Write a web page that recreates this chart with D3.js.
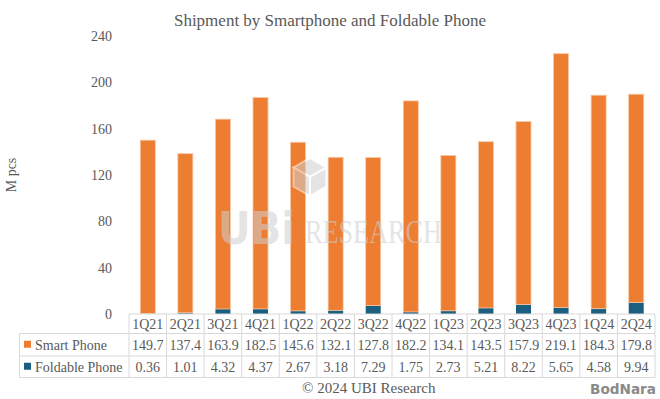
<!DOCTYPE html>
<html>
<head>
<meta charset="utf-8">
<script src="https://cdn.jsdelivr.net/npm/d3@7"></script>
<style>
  body { margin: 0; background: #fff; }
  text { font-family: "Liberation Serif", "Times New Roman", serif; fill: #595959; }
</style>
</head>
<body>
<div id="chart"></div>
<script>
// chart data
const quarters = ["1Q21", "2Q21", "3Q21", "4Q21", "1Q22", "2Q22", "3Q22", "4Q22", "1Q23", "2Q23", "3Q23", "4Q23", "1Q24", "2Q24"];
const smartPhone = [149.7, 137.4, 163.9, 182.5, 145.6, 132.1, 127.8, 182.2, 134.1, 143.5, 157.9, 219.1, 184.3, 179.8];
const foldablePhone = [0.36, 1.01, 4.32, 4.37, 2.67, 3.18, 7.29, 1.75, 2.73, 5.21, 8.22, 5.65, 4.58, 9.94];
const yTicks = [0, 40, 80, 120, 160, 200, 240];
const seriesNames = ["Smart Phone", "Foldable Phone"];
const colors = { "Smart Phone": "#ED7D31", "Foldable Phone": "#1A5F7F" };

const width = 660, height = 399;
const plotLeft = 129, plotRight = 655, plotTop = 36, plotBottom = 314;
const tableLeft = 19.5, rowH = [19.5, 22.5, 21.5];
const barW = 15;
const gridColor = "#d9d9d9";

const svg = d3.select("#chart").append("svg")
  .attr("width", width)
  .attr("height", height);

const x = d3.scaleBand().domain(quarters).range([plotLeft, plotRight]);
const y = d3.scaleLinear().domain([0, 240]).range([plotBottom, plotTop]);

// title
svg.append("text")
  .attr("x", 330).attr("y", 26)
  .attr("text-anchor", "middle")
  .style("font-size", "17px")
  .text("Shipment by Smartphone and Foldable Phone");

// y axis labels
svg.append("g").selectAll("text")
  .data(yTicks)
  .enter().append("text")
  .attr("x", 112)
  .attr("y", d => y(d) + 5)
  .attr("text-anchor", "end")
  .style("font-size", "14px")
  .text(d => d);

svg.append("text")
  .attr("transform", "translate(16, 175) rotate(-90)")
  .attr("text-anchor", "middle")
  .style("font-size", "14px")
  .text("M pcs");

// stacked bars
const rows = quarters.map((q, i) => ({ q: q, "Smart Phone": smartPhone[i], "Foldable Phone": foldablePhone[i] }));
const stack = d3.stack().keys(["Foldable Phone", "Smart Phone"])(rows);

svg.append("g").selectAll("g")
  .data(stack)
  .enter().append("g")
  .attr("fill", d => colors[d.key])
  .attr("stroke", d => d.key === "Smart Phone" ? "#f7c7a6" : "none")
  .attr("stroke-width", 0.8)
  .selectAll("rect")
  .data(d => d)
  .enter().append("rect")
  .attr("x", d => x(d.data.q) + (x.bandwidth() - barW) / 2)
  .attr("y", d => y(d[1]))
  .attr("width", barW)
  .attr("height", d => y(d[0]) - y(d[1]));

// watermark
const wm = svg.append("g").attr("opacity", 0.55).style("pointer-events", "none");
wm.append("text")
  .attr("x", 218).attr("y", 244)
  .attr("textLength", 77).attr("lengthAdjust", "spacingAndGlyphs")
  .style("font-family", "'DejaVu Sans', sans-serif")
  .style("font-weight", "bold")
  .style("font-size", "44px")
  .style("fill", "#cfcfcf")
  .text("UBi");
wm.append("text")
  .attr("x", 305).attr("y", 243)
  .attr("textLength", 137).attr("lengthAdjust", "spacingAndGlyphs")
  .style("font-size", "33px")
  .style("fill", "#cfcfcf")
  .text("RESEARCH");
// cube icon
const cx = 310, cy = 177, r = 19;
const hex = d3.range(6).map(k => [cx + r * Math.cos(Math.PI / 6 + k * Math.PI / 3), cy + r * Math.sin(Math.PI / 6 + k * Math.PI / 3)]);
const faces = [[hex[3], hex[4], hex[5], [cx, cy]], [hex[5], hex[0], hex[1], [cx, cy]], [hex[1], hex[2], hex[3], [cx, cy]]];
wm.selectAll("path.face")
  .data(faces)
  .enter().append("path")
  .attr("class", "face")
  .attr("d", d => d3.line()(d) + "Z")
  .attr("fill", "#cfcfcf")
  .attr("stroke", "#fff")
  .attr("stroke-width", 2);

// data table
const tbl = svg.append("g");
const yRow0 = plotBottom, yRow1 = yRow0 + rowH[0], yRow2 = yRow1 + rowH[1], yRow3 = yRow2 + rowH[2];

// horizontal lines
tbl.append("line").attr("x1", plotLeft).attr("x2", plotRight).attr("y1", yRow0).attr("y2", yRow0);
[yRow1, yRow2, yRow3].forEach(yy => {
  tbl.append("line").attr("x1", tableLeft).attr("x2", plotRight).attr("y1", yy).attr("y2", yy);
});
// vertical lines
tbl.append("line").attr("x1", tableLeft).attr("x2", tableLeft).attr("y1", yRow1).attr("y2", yRow3);
quarters.forEach(q => {
  tbl.append("line").attr("x1", x(q)).attr("x2", x(q)).attr("y1", yRow0).attr("y2", yRow3);
});
tbl.append("line").attr("x1", plotRight).attr("x2", plotRight).attr("y1", yRow0).attr("y2", yRow3);
tbl.selectAll("line").attr("stroke", gridColor).attr("stroke-width", 1);

const cellText = (xx, yy, t, anchor) => tbl.append("text")
  .attr("x", xx).attr("y", yy)
  .attr("text-anchor", anchor || "middle")
  .style("font-size", "14px")
  .text(t);

quarters.forEach((q, i) => {
  const cxm = x(q) + x.bandwidth() / 2;
  cellText(cxm, yRow1 - 5, q);
  cellText(cxm, yRow2 - 6, smartPhone[i].toFixed(1));
  cellText(cxm, yRow3 - 6, foldablePhone[i].toFixed(2));
});

// legend entries in the table
seriesNames.forEach((name, i) => {
  const top = i === 0 ? yRow1 : yRow2;
  const h = i === 0 ? rowH[1] : rowH[2];
  tbl.append("rect")
    .attr("x", 24).attr("y", top + h / 2 - 4)
    .attr("width", 7).attr("height", 7)
    .attr("fill", colors[name]);
  cellText(35, top + h / 2 + 5, name, "start");
});

// footer
svg.append("text")
  .attr("x", 302).attr("y", 393)
  .style("font-size", "15px")
  .text("\u00A9 2024 UBI Research");

svg.append("text")
  .attr("x", 590).attr("y", 394)
  .attr("textLength", 66).attr("lengthAdjust", "spacingAndGlyphs")
  .style("font-family", "'DejaVu Sans', sans-serif")
  .style("font-weight", "bold")
  .style("font-size", "14px")
  .style("fill", "#8a8a8a")
  .text("BodNara");
</script>
</body>
</html>
